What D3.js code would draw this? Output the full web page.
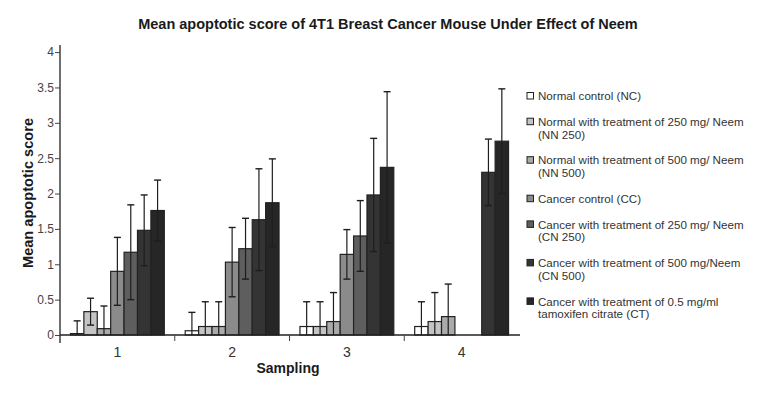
<!DOCTYPE html>
<html>
<head>
<meta charset="utf-8">
<script src="https://cdn.jsdelivr.net/npm/d3@7"></script>
<style>
  body { margin: 0; background: #fff; }
  text { font-family: "Liberation Sans", Arial, sans-serif; }
</style>
</head>
<body>
<div id="chart"></div>
<script>
// data
var samplings = ["1", "2", "3", "4"];
var groups = ["NC", "NN 250", "NN 500", "CC", "CN 250", "CN 500", "CT"];
var legendLabels = [
  ["Normal control (NC)"],
  ["Normal with treatment of 250 mg/ Neem", "(NN 250)"],
  ["Normal with treatment of 500 mg/ Neem", "(NN 500)"],
  ["Cancer control (CC)"],
  ["Cancer with treatment of 250 mg/ Neem", "(CN 250)"],
  ["Cancer with treatment of 500 mg/Neem", "(CN 500)"],
  ["Cancer with treatment of 0.5 mg/ml", "tamoxifen citrate (CT)"]
];
var fills = ["#ffffff", "#c4c4c4", "#aaaaaa", "#8b8b8b", "#5e5e5e", "#343434", "#262626"];

// mean per group, one array per sampling (null = no bar)
var mean1 = [0.02, 0.33, 0.09, 0.90, 1.17, 1.48, 1.76];
var mean2 = [0.06, 0.12, 0.12, 1.03, 1.22, 1.63, 1.87];
var mean3 = [0.12, 0.12, 0.19, 1.14, 1.40, 1.98, 2.37];
var mean4 = [0.12, 0.19, 0.26, null, null, 2.30, 2.74];
// standard deviation
var sd1 = [0.18, 0.19, 0.32, 0.48, 0.67, 0.50, 0.43];
var sd2 = [0.26, 0.35, 0.35, 0.49, 0.43, 0.72, 0.62];
var sd3 = [0.35, 0.35, 0.41, 0.35, 0.50, 0.80, 1.07];
var sd4 = [0.35, 0.41, 0.46, null, null, 0.47, 0.74];

var yTicks = [0, 0.5, 1, 1.5, 2, 2.5, 3, 3.5, 4];

var means = [mean1, mean2, mean3, mean4];
var sds = [sd1, sd2, sd3, sd4];

var W = 777, H = 400;
var svg = d3.select("#chart").append("svg").attr("width", W).attr("height", H);

var x0 = d3.scaleBand().domain(samplings).range([60, 519]).padding(0);
var x1 = d3.scaleBand().domain(groups).range([0, x0.bandwidth()])
  .paddingInner(0).paddingOuter(0.78);
var y = d3.scaleLinear().domain([0, 4.1]).range([335, 45]);

// title
svg.append("text")
  .attr("x", 388).attr("y", 29)
  .attr("text-anchor", "middle")
  .attr("font-size", "14.5px").attr("font-weight", "bold").attr("fill", "#1a1a1a")
  .text("Mean apoptotic score of 4T1 Breast Cancer Mouse Under Effect of Neem");

// bars
var rows = [];
samplings.forEach(function(s, i) {
  groups.forEach(function(g, j) {
    if (means[i][j] != null) rows.push({s: s, g: g, j: j, m: means[i][j], sd: sds[i][j]});
  });
});

var bar = svg.append("g").selectAll("g").data(rows).enter().append("g")
  .attr("transform", function(d) { return "translate(" + (x0(d.s) + x1(d.g)) + ",0)"; });

bar.append("rect")
  .attr("x", 0)
  .attr("y", function(d) { return y(d.m); })
  .attr("width", x1.bandwidth())
  .attr("height", function(d) { return y(0) - y(d.m); })
  .attr("fill", function(d) { return fills[d.j]; })
  .attr("stroke", "#222").attr("stroke-width", 1.2);

// error bars
var bw = x1.bandwidth();
bar.append("line")
  .attr("x1", bw / 2).attr("x2", bw / 2)
  .attr("y1", function(d) { return y(Math.max(0, d.m - d.sd)); })
  .attr("y2", function(d) { return y(d.m + d.sd); })
  .attr("stroke", "#1e1e1e").attr("stroke-width", 1.2);
bar.append("line")
  .attr("x1", bw / 2 - 3.5).attr("x2", bw / 2 + 3.5)
  .attr("y1", function(d) { return y(d.m + d.sd); })
  .attr("y2", function(d) { return y(d.m + d.sd); })
  .attr("stroke", "#1e1e1e").attr("stroke-width", 1.4);
bar.filter(function(d) { return d.m - d.sd > 0; }).append("line")
  .attr("x1", bw / 2 - 3.5).attr("x2", bw / 2 + 3.5)
  .attr("y1", function(d) { return y(d.m - d.sd); })
  .attr("y2", function(d) { return y(d.m - d.sd); })
  .attr("stroke", "#1e1e1e").attr("stroke-width", 1.4);

// y axis
var yAxis = svg.append("g").attr("transform", "translate(60,0)")
  .call(d3.axisLeft(y).tickValues(yTicks).tickSize(5).tickSizeOuter(0)
    .tickFormat(function(d) { return d; }));
yAxis.select(".domain").attr("stroke", "#222").attr("stroke-width", 1.3)
  .attr("d", "M0,45V343");
yAxis.selectAll(".tick line").attr("stroke", "#444");
yAxis.selectAll(".tick text").attr("font-size", "12px").attr("fill", "#444")
  .attr("font-family", "Liberation Sans, Arial, sans-serif").attr("x", -6);

// x axis
var xAxis = svg.append("g").attr("transform", "translate(0,335)")
  .call(d3.axisBottom(x0).tickSize(0).tickPadding(12));
xAxis.select(".domain").attr("stroke", "#222").attr("stroke-width", 1.3)
  .attr("d", "M60,0H520");
xAxis.selectAll(".tick text").attr("font-size", "14px").attr("fill", "#333")
  .attr("font-family", "Liberation Sans, Arial, sans-serif");
xAxis.selectAll(".sep").data(samplings.slice(1)).enter().append("line")
  .attr("x1", function(d) { return x0(d); }).attr("x2", function(d) { return x0(d); })
  .attr("y1", 0).attr("y2", 6).attr("stroke", "#444");

// axis titles
svg.append("text")
  .attr("x", 288).attr("y", 373)
  .attr("text-anchor", "middle")
  .attr("font-size", "14px").attr("font-weight", "bold").attr("fill", "#1a1a1a")
  .text("Sampling");
svg.append("text")
  .attr("transform", "translate(33,193) rotate(-90)")
  .attr("text-anchor", "middle")
  .attr("font-size", "14.6px").attr("font-weight", "bold").attr("fill", "#1a1a1a")
  .text("Mean apoptotic score");

// legend
var ly = 96;
var legend = svg.append("g");
legendLabels.forEach(function(lines, i) {
  legend.append("rect")
    .attr("x", 527).attr("y", ly - 3.5).attr("width", 6.5).attr("height", 6.5)
    .attr("fill", fills[i]).attr("stroke", "#222").attr("stroke-width", 1);
  lines.forEach(function(t, k) {
    legend.append("text")
      .attr("x", 538).attr("y", ly + k * 12.8 + 4.2)
      .attr("font-size", "11.6px").attr("fill", "#333")
      .text(t);
  });
  ly += lines.length * 12.8 + 12.9;
});
</script>
</body>
</html>
